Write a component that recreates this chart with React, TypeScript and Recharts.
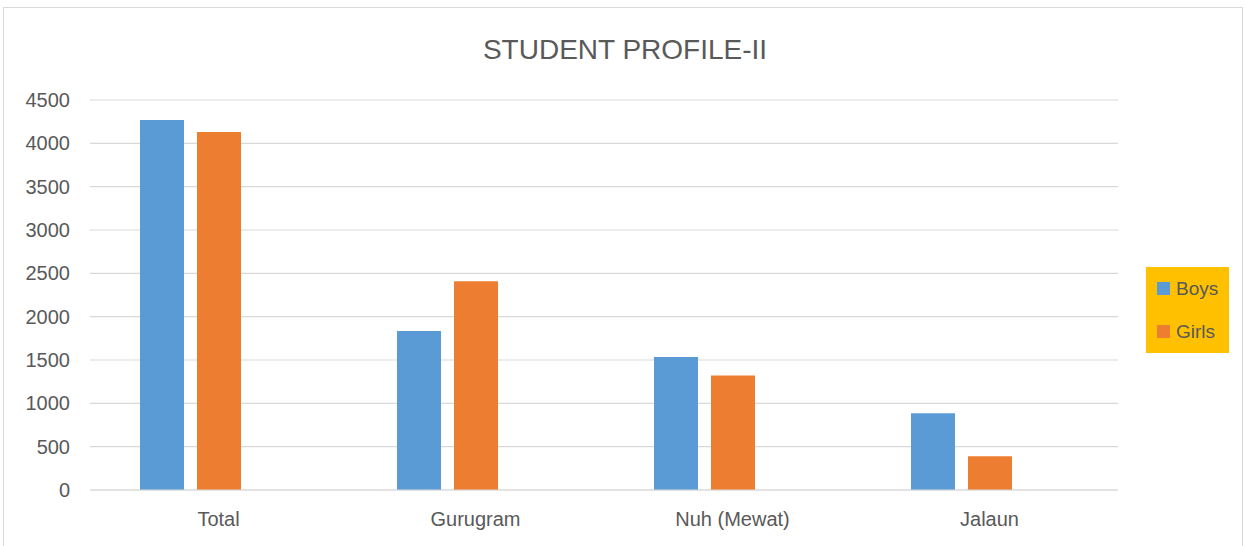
import { BarChart, Bar, XAxis, YAxis, CartesianGrid, Legend } from "recharts";

const categories = ["Total", "Gurugram", "Nuh (Mewat)", "Jalaun"];
const boys = [4270, 1835, 1535, 885];
const girls = [4130, 2410, 1320, 390];
// Excel chart keeps a third, empty series slot — it shifts the pairs to the left
const spacer = [null, null, null, null];
const yTicks = [0, 500, 1000, 1500, 2000, 2500, 3000, 3500, 4000, 4500];

const seriesNames = ["Boys", "Girls"];
const seriesColors = ["#5B9BD5", "#ED7D31"];

const data = categories.map((name, i) => ({
  name,
  Boys: boys[i],
  Girls: girls[i],
  spacer: spacer[i],
}));

const font = '"Liberation Sans", Arial, sans-serif';

function LegendBox() {
  return (
    <div
      style={{
        background: "#FFC000",
        width: 83,
        height: 86,
        boxSizing: "border-box",
        paddingLeft: 11,
        fontFamily: font,
        fontSize: 19,
        color: "#595959",
      }}
    >
      {seriesNames.map((s, i) => (
        <div key={s} style={{ height: 43, display: "flex", alignItems: "center" }}>
          <span style={{ width: 13, height: 13, background: seriesColors[i], display: "inline-block", marginRight: 6 }} />
          <span>{s}</span>
        </div>
      ))}
    </div>
  );
}

export default function App() {
  return (
    <div style={{ position: "absolute", left: 0, top: 0, width: 1245, height: 546, background: "#fff", overflow: "hidden" }}>
      <div
        style={{
          position: "absolute",
          left: 3,
          top: 7,
          width: 1238,
          height: 600,
          border: "1px solid #d9d9d9",
        }}
      />
      <div
        style={{
          position: "absolute",
          left: 0,
          top: 36,
          width: 1250,
          textAlign: "center",
          fontFamily: font,
          fontSize: 28,
          lineHeight: "28px",
          color: "#595959",
        }}
      >
        STUDENT PROFILE-II
      </div>
      <div style={{ position: "absolute", left: 0, top: 0 }}>
        <BarChart
          width={1245}
          height={546}
          data={data}
          margin={{ top: 100, right: 127, bottom: 0, left: 0 }}
          barSize={44}
          barGap={13}
        >
          <CartesianGrid vertical={false} stroke="#d9d9d9" strokeWidth={1.2} />
          <XAxis
            dataKey="name"
            height={56}
            axisLine={{ stroke: "#d9d9d9", strokeWidth: 1.2 }}
            tickLine={false}
            tickMargin={16}
            tick={{ fill: "#595959", fontSize: 20, fontFamily: font }}
          />
          <YAxis
            width={90}
            domain={[0, 4500]}
            ticks={yTicks}
            axisLine={false}
            tickLine={false}
            tickMargin={14}
            tick={{ fill: "#595959", fontSize: 20, fontFamily: font }}
          />
          <Legend
            verticalAlign="middle"
            align="center"
            layout="horizontal"
            wrapperStyle={{ left: 1146, top: 267, width: 83, height: 86 }}
            content={() => <LegendBox />}
          />
          <Bar dataKey="Boys" fill={seriesColors[0]} isAnimationActive={false} />
          <Bar dataKey="Girls" fill={seriesColors[1]} isAnimationActive={false} />
          <Bar dataKey="spacer" fill="#A5A5A5" legendType="none" isAnimationActive={false} />
        </BarChart>
      </div>
    </div>
  );
}
